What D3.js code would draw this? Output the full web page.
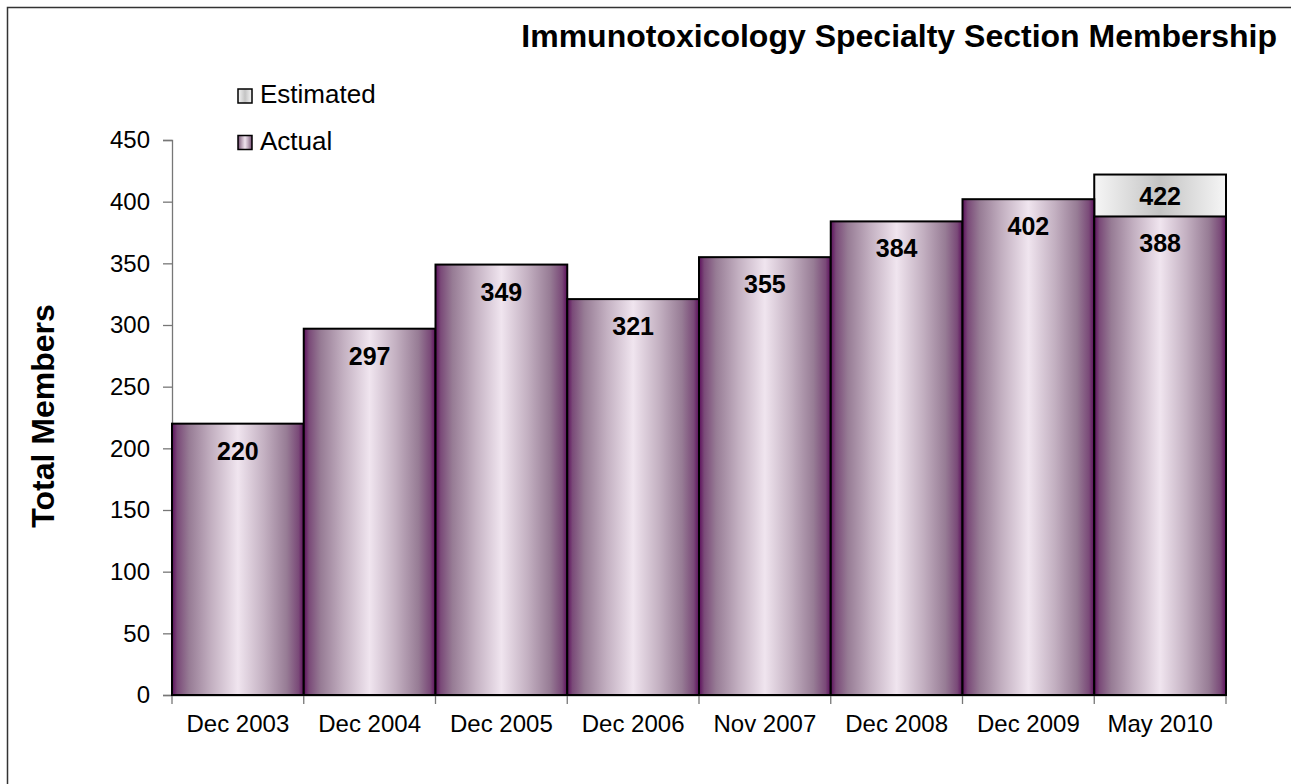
<!DOCTYPE html>
<html><head><meta charset="utf-8">
<script src="https://cdn.jsdelivr.net/npm/d3@7/dist/d3.min.js"></script>
<style>body{margin:0;background:#fff;}svg{display:block;font-family:"Liberation Sans",Arial,sans-serif;}</style>
</head><body>
<svg id="c" width="1291" height="784"></svg>
<script>
const categories = ["Dec 2003","Dec 2004","Dec 2005","Dec 2006","Nov 2007","Dec 2008","Dec 2009","May 2010"];
const actual = [220,297,349,321,355,384,402,388];
const estimated = [null,null,null,null,null,null,null,422];
const yTicks = [0,50,100,150,200,250,300,350,400,450];
const seriesNames = ["Estimated","Actual"];

const svg = d3.select("#c");
const m = {left:172, right:1226, top:140, bottom:695};

const defs = svg.append("defs");
function grad(id, stops){
  const g = defs.append("linearGradient").attr("id",id).attr("x1","0%").attr("x2","100%").attr("y1","0%").attr("y2","0%");
  stops.forEach(s=>g.append("stop").attr("offset",s[0]).attr("stop-color",s[1]));
}
grad("gAct",[[0,"#5c0e5c"],[0.04,"#7a4a78"],[0.13,"#977c95"],[0.3,"#c3b0c1"],[0.5,"#f0e5ef"],[0.7,"#c3b0c1"],[0.87,"#977c95"],[0.96,"#7a4a78"],[1,"#5c0e5c"]]);
grad("gEst",[[0,"#f6f6f6"],[0.5,"#c4c4c4"],[1,"#f6f6f6"]]);

// frame
svg.append("rect").attr("x",7.5).attr("y",7.5).attr("width",1400).attr("height",1000)
  .attr("fill","none").attr("stroke","#333").attr("stroke-width",1.5);

const x = d3.scaleBand().domain(categories).range([m.left,m.right]).padding(0);
const y = d3.scaleLinear().domain([0,450]).range([m.bottom,m.top]);

// y axis
const ya = svg.append("g").attr("transform",`translate(${m.left},0)`)
  .call(d3.axisLeft(y).tickValues(yTicks).tickSize(9).tickPadding(13).tickFormat(d3.format("d")));
ya.selectAll("path,line").attr("stroke","#777").attr("stroke-width",1.3);
ya.selectAll("text").attr("font-size",24).attr("fill","#000").attr("font-family","Liberation Sans, Arial");

// x axis
const xa = svg.append("g").attr("transform",`translate(0,${m.bottom})`)
  .call(d3.axisBottom(x).tickSize(0).tickPadding(20));
xa.selectAll("text").attr("font-size",24).attr("fill","#000").attr("font-family","Liberation Sans, Arial");
xa.select("path").attr("stroke","#555").attr("stroke-width",1.3);
const xt = d3.range(categories.length+1).map(i=>m.left + i*x.step());
svg.append("g").selectAll("line").data(xt).join("line")
  .attr("x1",d=>d).attr("x2",d=>d).attr("y1",m.bottom).attr("y2",m.bottom+9)
  .attr("stroke","#777").attr("stroke-width",1.3);

// estimated bars (behind)
const estData = categories.map((c,i)=>({c,v:estimated[i]})).filter(d=>d.v!=null);
svg.append("g").selectAll("rect").data(estData).join("rect")
  .attr("x",d=>x(d.c)).attr("width",x.bandwidth())
  .attr("y",d=>y(d.v)).attr("height",d=>y(0)-y(d.v))
  .attr("fill","url(#gEst)").attr("stroke","#000").attr("stroke-width",2);

// actual bars
const actData = categories.map((c,i)=>({c,v:actual[i]}));
svg.append("g").selectAll("rect").data(actData).join("rect")
  .attr("x",d=>x(d.c)).attr("width",x.bandwidth())
  .attr("y",d=>y(d.v)).attr("height",d=>y(0)-y(d.v))
  .attr("fill","url(#gAct)").attr("stroke","#000").attr("stroke-width",2);

// labels
const lab = svg.append("g").attr("font-size",25).attr("font-weight","bold").attr("text-anchor","middle").attr("font-family","Liberation Sans, Arial");
estData.forEach(d=>lab.append("text").attr("x",x(d.c)+x.bandwidth()/2).attr("y",y(d.v)+30).text(d.v));
actData.forEach(d=>lab.append("text").attr("x",x(d.c)+x.bandwidth()/2).attr("y",y(d.v)+36).text(d.v));

// title
svg.append("text").attr("x",1277).attr("y",47).attr("text-anchor","end")
  .attr("font-size",32).attr("font-weight","bold").text("Immunotoxicology Specialty Section Membership");

// y title
svg.append("text").attr("transform","translate(54,416) rotate(-90)").attr("text-anchor","middle")
  .attr("font-size",32).attr("font-weight","bold").text("Total Members");

// legend
const lg = svg.append("g");
const fills = ["url(#gEst)","url(#gAct)"];
seriesNames.forEach((n,i)=>{
  const yy = 89 + i*46.5;
  lg.append("rect").attr("x",238).attr("y",yy).attr("width",14).attr("height",14)
    .attr("fill",fills[i]).attr("stroke","#000").attr("stroke-width",1.5);
  lg.append("text").attr("x",260).attr("y",yy+14).attr("font-size",26).text(n);
});
</script>
</body></html>
